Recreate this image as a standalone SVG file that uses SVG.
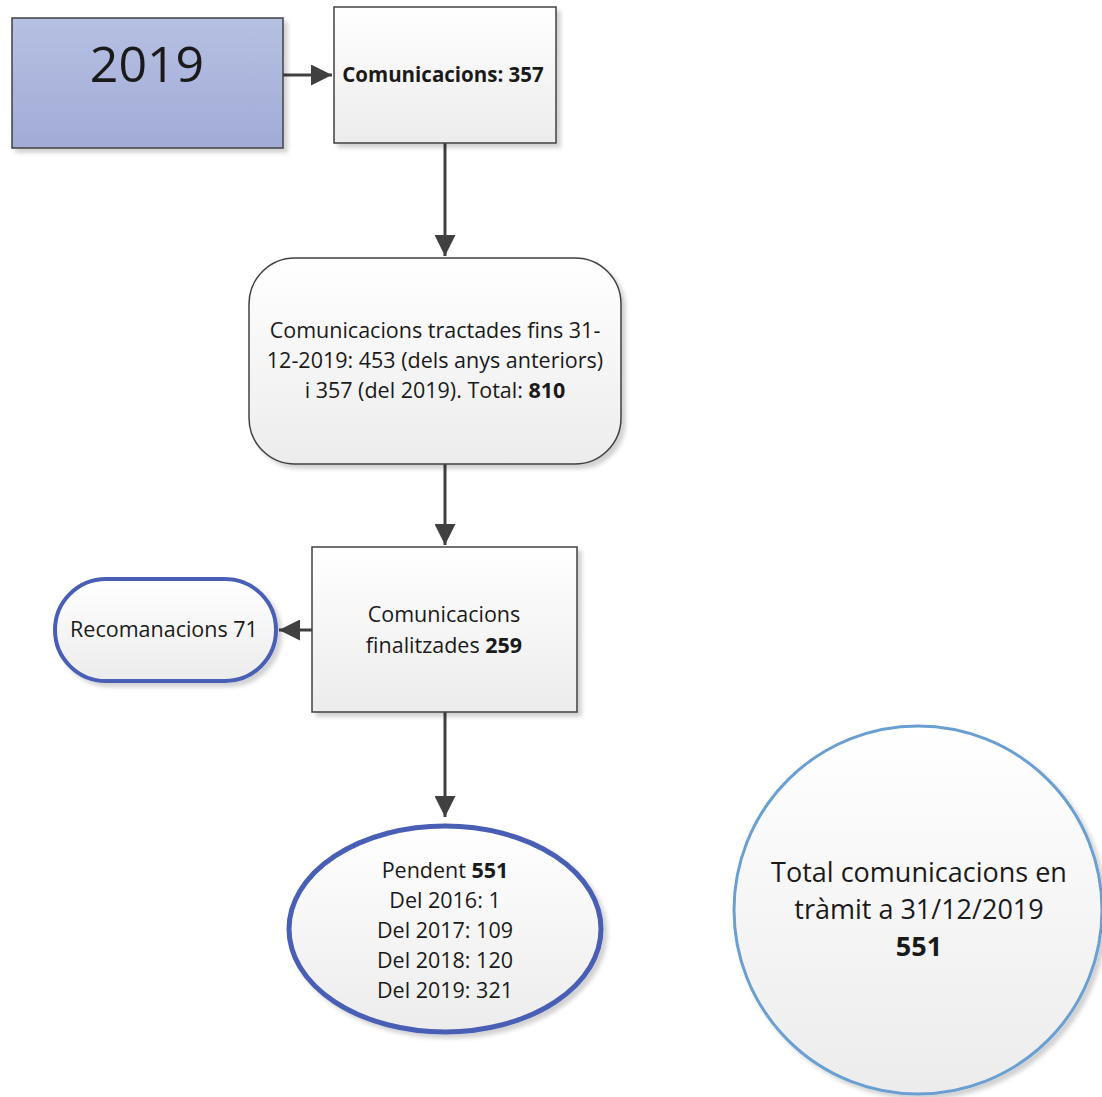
<svg xmlns="http://www.w3.org/2000/svg" width="1102" height="1097" viewBox="0 0 1102 1097">
<style>
text{font-family:"Open Sans","Liberation Sans",sans-serif;fill:#1a1a1a;text-anchor:middle}
.t{font-size:21.5px}
.b{font-weight:bold}
.conn{stroke:#404040;stroke-width:3;fill:none}
</style>
<defs>
<linearGradient id="gBlue" x1="0" y1="0" x2="0" y2="1"><stop offset="0" stop-color="#b6c0e2"/><stop offset="1" stop-color="#a2abd6"/></linearGradient>
<linearGradient id="gWhite" x1="0" y1="0" x2="0" y2="1"><stop offset="0" stop-color="#ffffff"/><stop offset="1" stop-color="#ececec"/></linearGradient>
<filter id="sh" x="-10%" y="-10%" width="130%" height="130%"><feDropShadow dx="4" dy="4" stdDeviation="2" flood-color="#000" flood-opacity="0.18"/></filter>
<marker id="ah" viewBox="0 0 10 10" refX="10" refY="5" markerWidth="7" markerHeight="7" orient="auto" markerUnits="strokeWidth"><path d="M0,0 L10,5 L0,10 z" fill="#404040"/></marker>
</defs>
<g id="connectors">
<line class="conn" x1="283" y1="75" x2="332" y2="75" marker-end="url(#ah)"/>
<line class="conn" x1="445" y1="143" x2="445" y2="256" marker-end="url(#ah)"/>
<line class="conn" x1="445" y1="464" x2="445" y2="545" marker-end="url(#ah)"/>
<line class="conn" x1="312" y1="630" x2="279" y2="630" marker-end="url(#ah)"/>
<line class="conn" x1="445" y1="712" x2="445" y2="817" marker-end="url(#ah)"/>
</g>
<g id="n2019">
<rect x="12" y="18" width="271" height="130" fill="url(#gBlue)" stroke="#404040" stroke-width="1.5" filter="url(#sh)"/>
<text x="147" y="82" style="font-size:50px">2019</text>
</g>
<g id="nCom">
<rect x="334" y="7" width="222" height="136" fill="url(#gWhite)" stroke="#404040" stroke-width="1.5" filter="url(#sh)"/>
<text class="b" x="443" y="82" style="font-size:20.5px">Comunicacions: 357</text>
</g>
<g id="nTract">
<rect x="249" y="258" width="372" height="206" rx="46" fill="url(#gWhite)" stroke="#404040" stroke-width="1.5" filter="url(#sh)"/>
<text class="t" x="435" y="338">Comunicacions tractades fins 31-</text>
<text class="t" x="435" y="368">12-2019: 453 (dels anys anteriors)</text>
<text class="t" x="435" y="398">i 357 (del 2019). Total: <tspan class="b">810</tspan></text>
</g>
<g id="nFin">
<rect x="312" y="547" width="265" height="165" fill="url(#gWhite)" stroke="#404040" stroke-width="1.5" filter="url(#sh)"/>
<text class="t" x="444" y="622">Comunicacions</text>
<text class="t" x="444" y="653">finalitzades <tspan class="b">259</tspan></text>
</g>
<g id="nRec">
<rect x="55" y="579" width="221" height="102" rx="51" fill="url(#gWhite)" stroke="#4a5fb5" stroke-width="4" filter="url(#sh)"/>
<text class="t" x="164" y="637">Recomanacions 71</text>
</g>
<g id="nPend">
<ellipse cx="445" cy="929" rx="156" ry="103" fill="url(#gWhite)" stroke="#4a5fb5" stroke-width="5" filter="url(#sh)"/>
<text class="t" x="445" y="878">Pendent <tspan class="b">551</tspan></text>
<text class="t" x="445" y="908">Del 2016: 1</text>
<text class="t" x="445" y="938">Del 2017: 109</text>
<text class="t" x="445" y="968">Del 2018: 120</text>
<text class="t" x="445" y="998">Del 2019: 321</text>
</g>
<g id="nTotal">
<circle cx="918" cy="910" r="184" fill="url(#gWhite)" stroke="#6b9fd1" stroke-width="3" filter="url(#sh)"/>
<text x="919" y="882" style="font-size:27px">Total comunicacions en</text>
<text x="919" y="919" style="font-size:27px">tràmit a 31/12/2019</text>
<text class="b" x="919" y="956" style="font-size:27px">551</text>
</g>
</svg>
